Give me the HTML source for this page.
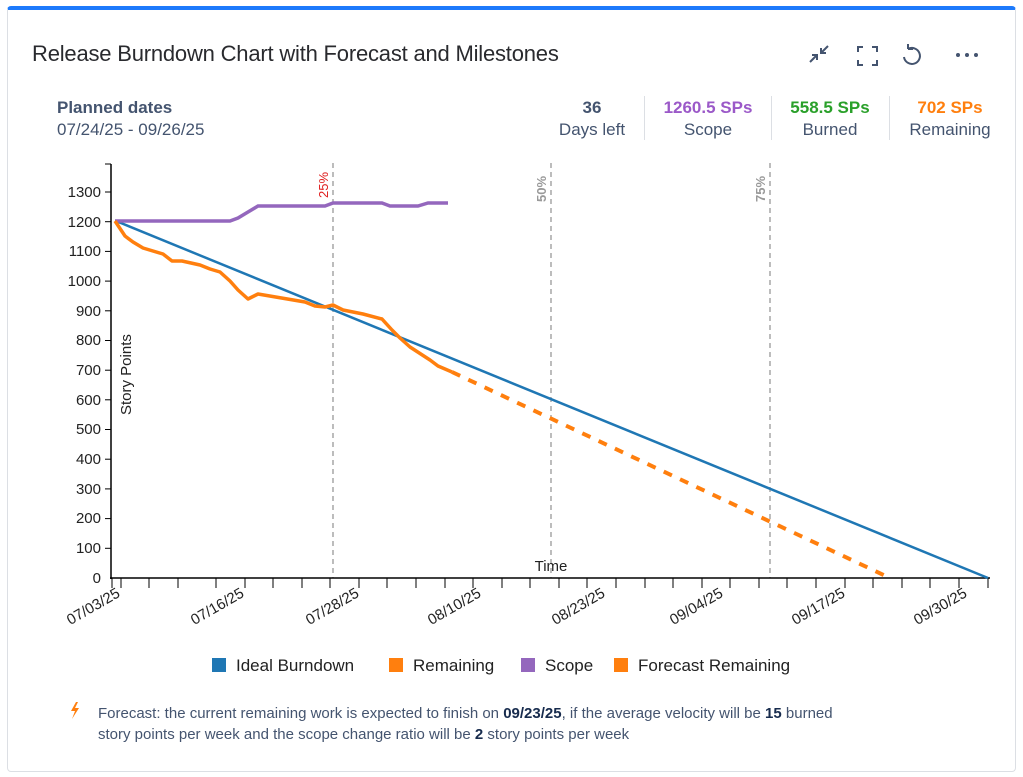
<!DOCTYPE html>
<html><head><style>
body{margin:0;width:1023px;height:777px;background:#fff;font-family:"Liberation Sans",sans-serif;position:relative;overflow:hidden}
.card{position:absolute;left:7px;top:6px;width:1009px;height:766px;border:1px solid #dcdfe4;border-radius:4px;border-top:4px solid #1d7afc;box-sizing:border-box}
.t{position:absolute;white-space:nowrap}
</style></head><body>
<div class="card"></div>
<div class="t" style="left:32px;top:41px;font-size:22px;color:#292a2e;letter-spacing:-0.2px">Release Burndown Chart with Forecast and Milestones</div>
<svg style="position:absolute;left:800px;top:40px" width="200" height="30">
<g stroke="#44546f" stroke-width="2" fill="none">
<path d="M10 22 L17 15 M12 15 L17 15 L17 20 M28 6 L21 13 M21 8 L21 13 L26 13"/>
<path d="M58 12 V7 H63 M72 7 H77 V12 M77 20 V25 H72 M63 25 H58 V20"/>
<path d="M108 9 A8 8 0 1 1 104 17 M108 9 L108 4 M108 9 L113 9"/>
</g>
<g fill="#44546f"><circle cx="158" cy="15" r="2"/><circle cx="167" cy="15" r="2"/><circle cx="176" cy="15" r="2"/></g>
</svg>
<div class="t" style="left:57px;top:98px;font-size:17px;font-weight:bold;color:#44546f">Planned dates</div>
<div class="t" style="left:57px;top:120px;font-size:17px;color:#44546f">07/24/25 - 09/26/25</div>
<div class="t" style="left:556px;top:98px;width:72px;text-align:center;font-size:17px;font-weight:bold;color:#44546f">36</div>
<div class="t" style="left:556px;top:120px;width:72px;text-align:center;font-size:17px;color:#44546f">Days left</div>
<div class="t" style="left:646px;top:98px;width:124px;text-align:center;font-size:17px;font-weight:bold;color:#9b59c8">1260.5 SPs</div>
<div class="t" style="left:646px;top:120px;width:124px;text-align:center;font-size:17px;color:#44546f">Scope</div>
<div class="t" style="left:772px;top:98px;width:116px;text-align:center;font-size:17px;font-weight:bold;color:#2aa02a">558.5 SPs</div>
<div class="t" style="left:772px;top:120px;width:116px;text-align:center;font-size:17px;color:#44546f">Burned</div>
<div class="t" style="left:890px;top:98px;width:120px;text-align:center;font-size:17px;font-weight:bold;color:#ff7f0e">702 SPs</div>
<div class="t" style="left:890px;top:120px;width:120px;text-align:center;font-size:17px;color:#44546f">Remaining</div>
<div style="position:absolute;left:644px;top:96px;width:1px;height:44px;background:#dcdfe4"></div>
<div style="position:absolute;left:771px;top:96px;width:1px;height:44px;background:#dcdfe4"></div>
<div style="position:absolute;left:889px;top:96px;width:1px;height:44px;background:#dcdfe4"></div>

<svg style="position:absolute;left:0;top:0" width="1023" height="777" font-family="Liberation Sans, sans-serif">
<g stroke="#999" stroke-width="1.3" stroke-dasharray="5,4">
<line x1="333" y1="163" x2="333" y2="578"/><line x1="551" y1="163" x2="551" y2="578"/><line x1="770" y1="163" x2="770" y2="578"/>
</g>
<text transform="translate(328,198) rotate(-90)" font-size="13" fill="#e02020">25%</text>
<text transform="translate(546,202) rotate(-90)" font-size="13" fill="#999" font-weight="bold">50%</text>
<text transform="translate(765,202) rotate(-90)" font-size="13" fill="#999" font-weight="bold">75%</text>
<g stroke="#000" stroke-width="1.5">
<line x1="111" y1="164" x2="111" y2="579"/><line x1="110" y1="578" x2="990" y2="578"/>
</g>
<g stroke="#000" stroke-width="1">
<line x1="105" y1="192" x2="111" y2="192"/><line x1="105" y1="221.7" x2="111" y2="221.7"/><line x1="105" y1="251.4" x2="111" y2="251.4"/><line x1="105" y1="281.1" x2="111" y2="281.1"/><line x1="105" y1="310.8" x2="111" y2="310.8"/><line x1="105" y1="340.5" x2="111" y2="340.5"/><line x1="105" y1="370.2" x2="111" y2="370.2"/><line x1="105" y1="399.8" x2="111" y2="399.8"/><line x1="105" y1="429.5" x2="111" y2="429.5"/><line x1="105" y1="459.2" x2="111" y2="459.2"/><line x1="105" y1="488.9" x2="111" y2="488.9"/><line x1="105" y1="518.6" x2="111" y2="518.6"/><line x1="105" y1="548.3" x2="111" y2="548.3"/><line x1="105" y1="164" x2="111" y2="164"/>
</g>
<g font-size="15" fill="#222" text-anchor="end">
<text x="101" y="197">1300</text><text x="101" y="227">1200</text><text x="101" y="256">1100</text><text x="101" y="286">1000</text><text x="101" y="316">900</text><text x="101" y="345">800</text><text x="101" y="375">700</text><text x="101" y="405">600</text><text x="101" y="434">500</text><text x="101" y="464">400</text><text x="101" y="494">300</text><text x="101" y="523">200</text><text x="101" y="553">100</text><text x="101" y="583">0</text>
</g>
<g stroke="#000" stroke-width="1">
<line x1="112" y1="578" x2="112" y2="588"/><line x1="121" y1="578" x2="121" y2="588"/><line x1="149" y1="578" x2="149" y2="588"/><line x1="178" y1="578" x2="178" y2="588"/><line x1="216" y1="578" x2="216" y2="588"/><line x1="245" y1="578" x2="245" y2="588"/><line x1="273" y1="578" x2="273" y2="588"/><line x1="302" y1="578" x2="302" y2="588"/><line x1="330" y1="578" x2="330" y2="588"/><line x1="359" y1="578" x2="359" y2="588"/><line x1="387" y1="578" x2="387" y2="588"/><line x1="416" y1="578" x2="416" y2="588"/><line x1="445" y1="578" x2="445" y2="588"/><line x1="473" y1="578" x2="473" y2="588"/><line x1="502" y1="578" x2="502" y2="588"/><line x1="530" y1="578" x2="530" y2="588"/><line x1="559" y1="578" x2="559" y2="588"/><line x1="587" y1="578" x2="587" y2="588"/><line x1="616" y1="578" x2="616" y2="588"/><line x1="645" y1="578" x2="645" y2="588"/><line x1="673" y1="578" x2="673" y2="588"/><line x1="702" y1="578" x2="702" y2="588"/><line x1="730" y1="578" x2="730" y2="588"/><line x1="759" y1="578" x2="759" y2="588"/><line x1="787" y1="578" x2="787" y2="588"/><line x1="816" y1="578" x2="816" y2="588"/><line x1="845" y1="578" x2="845" y2="588"/><line x1="873" y1="578" x2="873" y2="588"/><line x1="902" y1="578" x2="902" y2="588"/><line x1="930" y1="578" x2="930" y2="588"/><line x1="959" y1="578" x2="959" y2="588"/><line x1="988" y1="578" x2="988" y2="588"/>
</g>
<g font-size="15" fill="#222" text-anchor="end">
<text transform="translate(121,596) rotate(-30)">07/03/25</text>
<text transform="translate(245,596) rotate(-30)">07/16/25</text>
<text transform="translate(360,596) rotate(-30)">07/28/25</text>
<text transform="translate(482,596) rotate(-30)">08/10/25</text>
<text transform="translate(606,596) rotate(-30)">08/23/25</text>
<text transform="translate(724,596) rotate(-30)">09/04/25</text>
<text transform="translate(846,596) rotate(-30)">09/17/25</text>
<text transform="translate(968,596) rotate(-30)">09/30/25</text>
</g>
<text x="551" y="571" font-size="15" text-anchor="middle" fill="#222">Time</text>
<text transform="translate(131,415) rotate(-90)" font-size="15" fill="#222">Story Points</text>
<line x1="116" y1="221" x2="988" y2="578" stroke="#1f77b4" stroke-width="2.5"/>
<polyline fill="none" stroke="#9467bd" stroke-width="3.5" points="115,221 230,221 238,218 248,212 258,206 325,206 333,203 382,203 390,206 418,206 428,203 448,203"/>
<polyline fill="none" stroke="#ff7f0e" stroke-width="3.5" stroke-linejoin="round" points="115,221 125,236 133,242 143,248 163,254 172,261 182,261 200,265 210,269 220,272 230,281 238,290 248,299 258,294 305,302 315,306 325,307 333,305 343,310 363,314 382,319 392,330 400,338 410,347 430,360 438,366 452,372"/>
<line x1="452" y1="372" x2="890" y2="578" stroke="#ff7f0e" stroke-width="4" stroke-dasharray="9,9"/>
<g font-size="17" fill="#222">
<rect x="212" y="658" width="14" height="14" fill="#1f77b4"/><text x="236" y="671">Ideal Burndown</text>
<rect x="389" y="658" width="14" height="14" fill="#ff7f0e"/><text x="413" y="671">Remaining</text>
<rect x="521" y="658" width="14" height="14" fill="#9467bd"/><text x="545" y="671">Scope</text>
<rect x="614" y="658" width="14" height="14" fill="#ff7f0e"/><text x="638" y="671">Forecast Remaining</text>
</g>
<path d="M76 702 L71 711 L75 711 L72 719 L79 708 L75 708 L78 702 Z" fill="#ff7f0e"/>
</svg>
<div class="t" style="left:98px;top:703px;font-size:15px;line-height:21px;color:#44546f;white-space:normal;width:760px">Forecast: the current remaining work is expected to finish on <b style="color:#172b4d">09/23/25</b>, if the average velocity will be <b style="color:#172b4d">15</b> burned story points per week and the scope change ratio will be <b style="color:#172b4d">2</b> story points per week</div>
</body></html>
